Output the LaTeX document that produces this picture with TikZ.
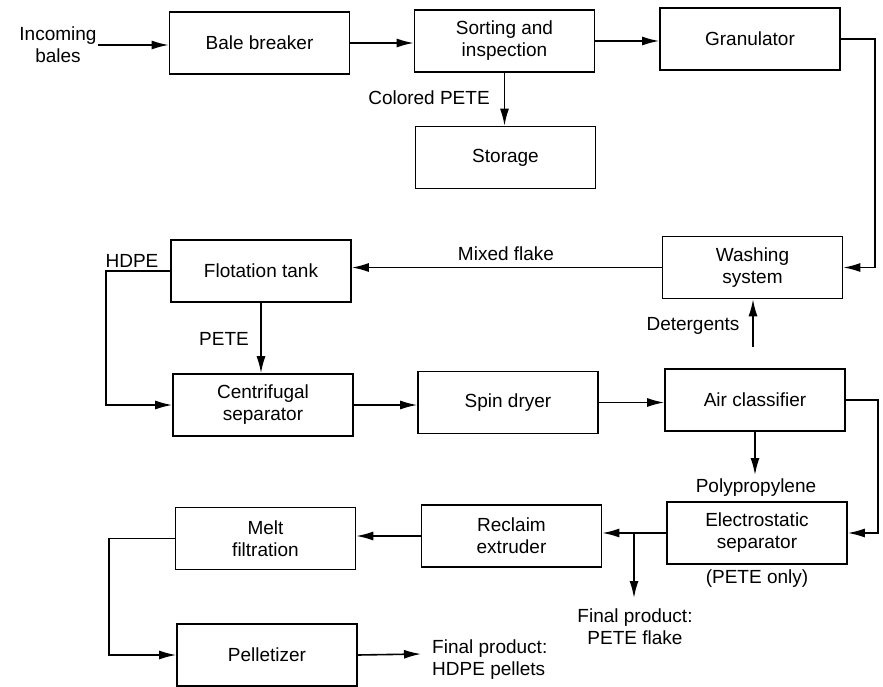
\documentclass[tikz,border=0pt]{standalone}
\usepackage{fontspec}
\setmainfont{Liberation Sans}
\usetikzlibrary{arrows.meta}
\begin{document}
\begin{tikzpicture}[x=1pt,y=-1pt,
  font=\fontsize{19}{22}\selectfont,
  box/.style={draw,line width=1.6pt,minimum width=180pt,minimum height=62pt,align=center,inner sep=2pt},
  lbl/.style={align=center,inner sep=1pt},
  conn/.style={line width=1.6pt},
  arr/.style={conn,-{Latex[length=17pt,width=9pt]}}]
\useasboundingbox (0,0) rectangle (883,687);
% boxes
\node[box] (bale) at (259.5,43) {Bale breaker};
\node[box] (sort) at (504.5,41) {Sorting and\\inspection};
\node[box] (stor) at (505.5,157.5) {Storage};
\node[box] (gran) at (750,39) {Granulator};
\node[box] (wash) at (752.5,267.5) {Washing\\system};
\node[box] (flot) at (261,271) {Flotation tank};
\node[box] (cent) at (263,405) {Centrifugal\\separator};
\node[box] (spin) at (508,402.5) {Spin dryer};
\node[box] (air) at (755,400) {Air classifier};
\node[box] (elec) at (757,533) {Electrostatic\\separator};
\node[box] (recl) at (511.5,536) {Reclaim\\extruder};
\node[box] (melt) at (265.5,538.5) {Melt\\filtration};
\node[box] (pell) at (267,655) {Pelletizer};
% labels
\node[lbl] (inc) at (58,45) {Incoming\\bales};
\node[lbl] (colp) at (429,98) {Colored PETE};
\node[lbl] (mix) at (506,254) {Mixed flake};
\node[lbl] (detl) at (693,326) {Detergents};
\node[lbl] (hdpe) at (132,261) {HDPE};
\node[lbl] (pete) at (224,339) {PETE};
\node[lbl] (poly) at (756,488) {Polypropylene};
\node[lbl] (only) at (757,579) {(PETE only)};
\node[lbl] (fpp) at (635,627) {Final product:\\PETE flake};
\node[lbl,align=left,anchor=west] (fph) at (431,660) {Final product:\\HDPE pellets};
% coordinates
\coordinate (det) at (753,347);
\coordinate (pp) at (755,475);
\coordinate (junc) at (634,534);
\coordinate (pf) at (634,598);
\coordinate (hp) at (421,654);
% connectors
\draw[arr] (inc.east) -- (inc.east -| bale.west);
\draw[arr] (bale.east) -- (bale.east -| sort.west);
\draw[arr] (sort.east) -- (sort.east -| gran.west);
\draw[arr] (sort.south) -- (sort.south |- stor.north);
\draw[arr] (gran.east) -- ++(34,0) |- (wash.east);
\draw[arr] (wash.west) -- (wash.west -| flot.east);
\draw[arr] (det) -- (det |- wash.south);
\draw[arr] (flot.south) -- (flot.south |- cent.north);
\draw[arr] (flot.west) -- ++(-64,0) |- (cent.west);
\draw[arr] (cent.east) -- (cent.east -| spin.west);
\draw[arr] (spin.east) -- (spin.east -| air.west);
\draw[arr] (air.south) -- (pp);
\draw[arr] (air.east) -- ++(32,0) |- (elec.east);
\draw[arr] (elec.west) -- (elec.west -| recl.east);
\draw[arr] (junc) -- (pf);
\draw[arr] (recl.west) -- (recl.west -| melt.east);
\draw[arr] (melt.west) -- ++(-66,0) |- (pell.west);
\draw[arr] (pell.east) -- (hp);
\end{tikzpicture}
\end{document}
